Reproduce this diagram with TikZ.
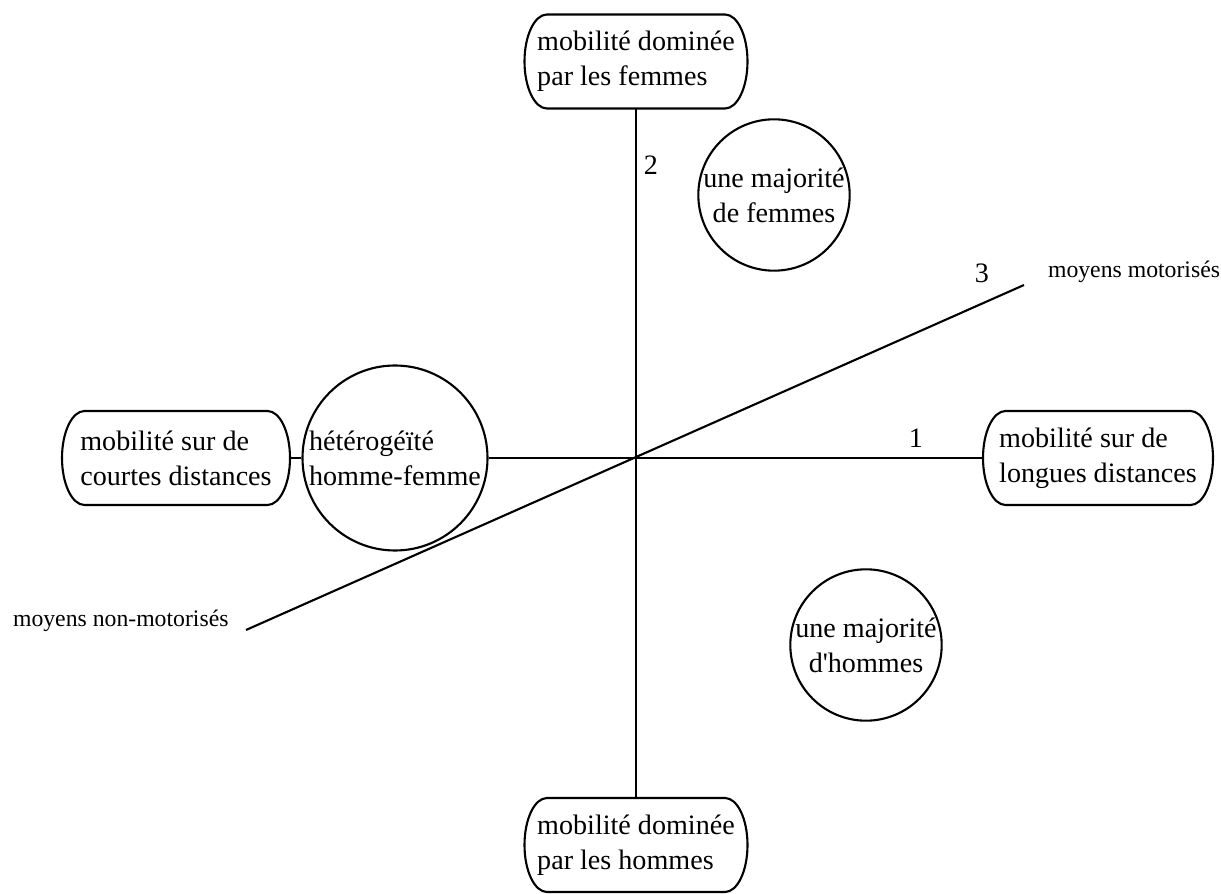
\documentclass[tikz,border=0pt]{standalone}
\usepackage{fontspec}
\setmainfont{Liberation Serif}
\begin{document}
\begin{tikzpicture}[line width=1.2pt,
  boite/.style={rectangle, align=left, inner sep=2pt, outer sep=0pt, minimum height=1.88cm, font=\fontsize{16}{20}\selectfont},
  rond/.style={draw, circle, inner sep=0pt, align=center, font=\fontsize{16}{20}\selectfont},
  petit/.style={font=\fontsize{13.5}{16}\selectfont, inner sep=0pt},
  chiffre/.style={font=\fontsize{16}{20}\selectfont, inner sep=0pt}]
\useasboundingbox (0,0) rectangle (24.42,17.86);
\node[boite, minimum width=4.46cm] (a) at (12.72,16.63) {mobilité dominée\\par les femmes};
\node[boite, minimum width=4.46cm] (b) at (12.72,0.96) {mobilité dominée\\par les hommes};
\node[boite, minimum width=4.56cm] (c) at (3.52,8.70) {mobilité sur de\\courtes distances};
\node[boite, minimum width=4.6cm] (d) at (21.96,8.70) {mobilité sur de\\longues distances};
% contours aux bouts arrondis
\foreach \n in {a,b,c,d}
  \draw ([xshift=0.45cm]\n.north west) -- ([xshift=-0.45cm]\n.north east)
    arc[start angle=90, end angle=-90, x radius=0.45cm, y radius=0.94cm]
    -- ([xshift=0.45cm]\n.south west)
    arc[start angle=270, end angle=90, x radius=0.45cm, y radius=0.94cm] -- cycle;
\node[rond, minimum size=3.7cm, align=left] (e) at (7.90,8.70) {hétérogéïté\\homme-femme};
\node[rond, minimum size=2.86cm] (f) at (15.48,13.96) {une majorité\\de femmes};
\node[rond, minimum size=2.84cm] (g) at (17.32,4.96) {une majorité\\d\textquotesingle hommes};
\coordinate (h) at (4.92,5.26);
\coordinate (i) at (20.48,12.16);
\draw (a)--(b);
\draw (c)--(e);
\draw (e)--(d);
\draw (h)--(i);
\node[chiffre] (n1) at (18.32,9.10) {1};
\node[chiffre] (n2) at (13.02,14.56) {2};
\node[chiffre] (n3) at (19.64,12.40) {3};
\node[petit, anchor=west] (j) at (20.94,12.42) {moyens motorisés};
\node[petit, anchor=west] (k) at (0.24,5.44) {moyens non-motorisés};
\end{tikzpicture}
\end{document}
